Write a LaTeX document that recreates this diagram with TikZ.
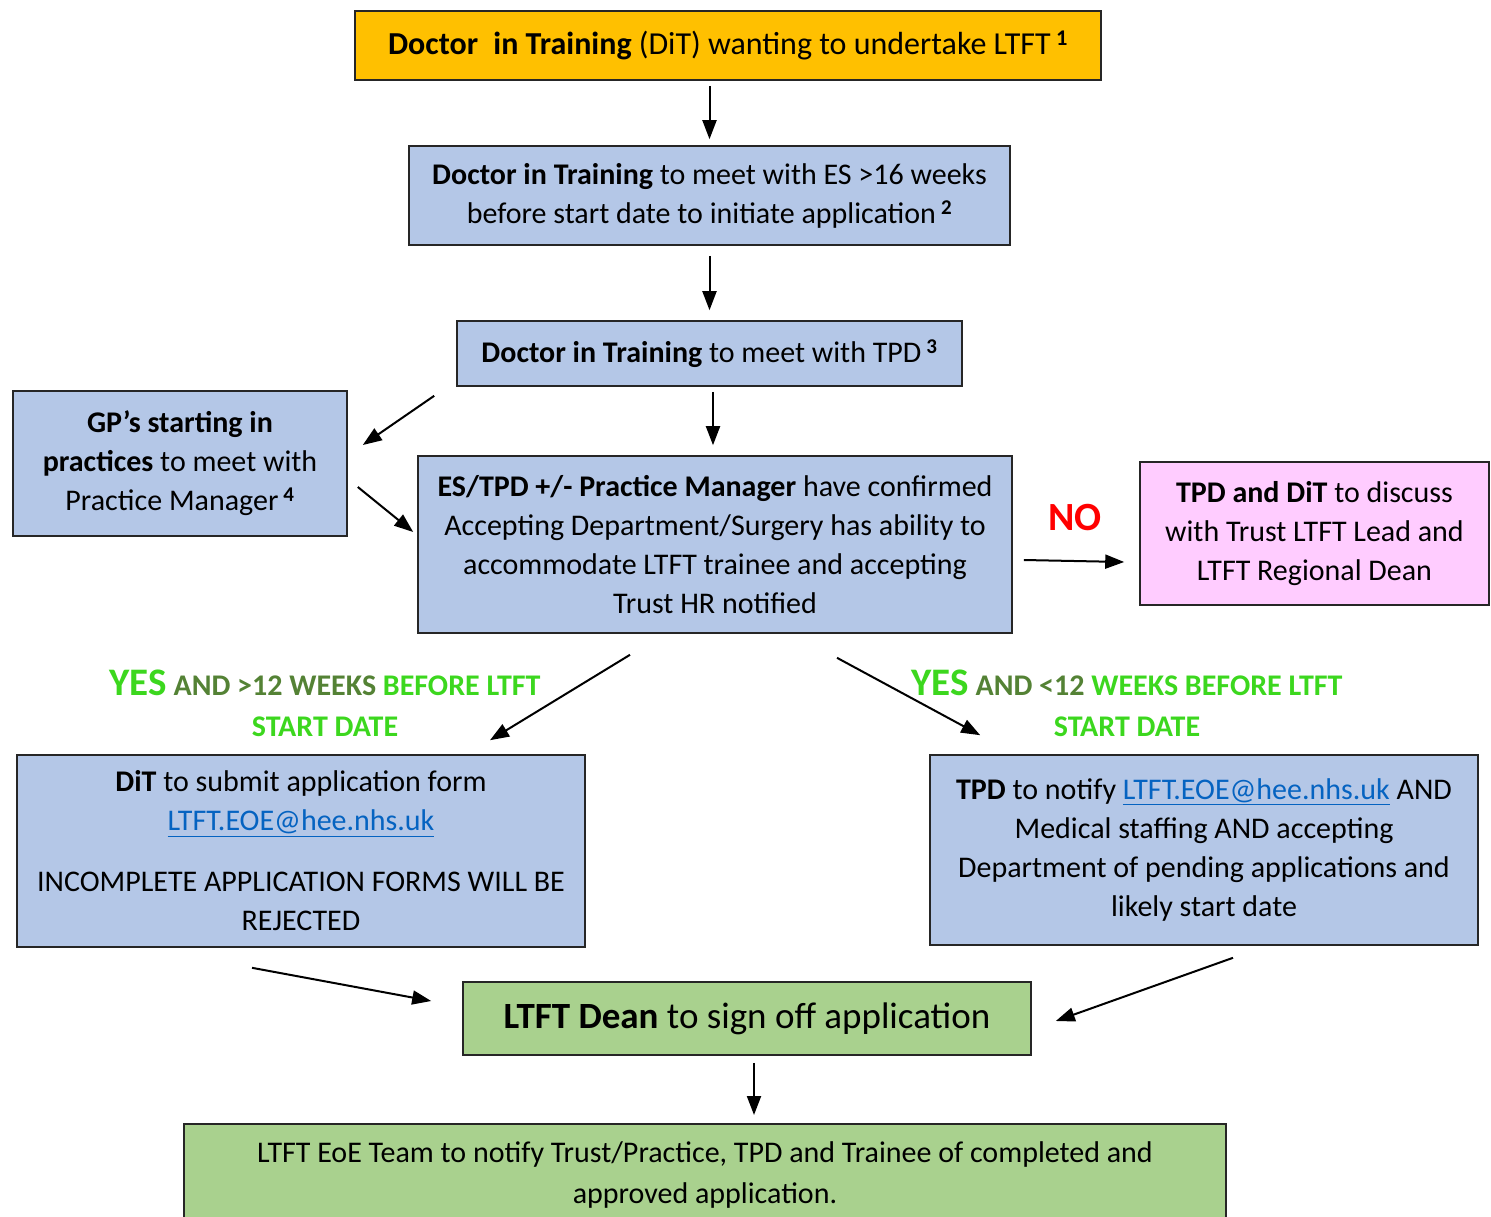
\documentclass[tikz,border=0pt]{standalone}
\usepackage{fontspec}
\setmainfont{Carlito}
\usetikzlibrary{arrows.meta,positioning}
\definecolor{boxorange}{HTML}{FFC000}
\definecolor{boxblue}{HTML}{B4C7E7}
\definecolor{boxpink}{HTML}{FFCCFF}
\definecolor{boxgreen}{HTML}{A9D18E}
\definecolor{linkblue}{HTML}{0563C1}
\definecolor{yesgreen}{RGB}{60,215,30}
\definecolor{andgreen}{HTML}{548235}
\newcommand{\lnk}[1]{\textcolor{linkblue}{\underline{#1}}}
\newcommand{\fnum}[1]{\,\textsuperscript{\textbf{#1}}}

\begin{document}
\begin{tikzpicture}[
      x=1pt, y=-1pt,
      font=\fontsize{30}{39}\selectfont,
      bx/.style={draw=black!85, line width=1.6pt, align=center, inner sep=0pt},
      fl/.style={-{Triangle[length=19pt,width=14pt]}, draw=black, line width=2pt},
      lbl/.style={align=center, font=\fontsize{30}{41}\selectfont\bfseries}
    ]
    \useasboundingbox (0,0) rectangle (1491,1217);
    \node[bx, fill=boxorange, minimum width=746pt, minimum height=69pt, font=\fontsize{32}{39}\selectfont] (want) at (728,45.5)
      {\textbf{Doctor\hspace{8pt} in Training} (DiT) wanting to undertake LTFT\fnum{1}};
    \node[bx, fill=boxblue, minimum width=601pt, minimum height=99pt] (es) at (709.5,195.5)
      {\textbf{Doctor in Training} to meet with ES >16 weeks\\before start date to initiate application\fnum{2}};
    \node[bx, fill=boxblue, minimum width=505pt, minimum height=65pt] (tpd) at (709.5,353.5)
      {\textbf{Doctor in Training} to meet with TPD\fnum{3}};
    \node[bx, fill=boxblue, minimum width=334pt, minimum height=145pt] (gp) at (180,463.5)
      {\textbf{GP’s starting in}\\\textbf{practices} to meet with\\Practice Manager\fnum{4}};
    \node[bx, fill=boxblue, minimum width=594pt, minimum height=177pt] (conf) at (715,544.5)
      {\textbf{ES/TPD +/- Practice Manager} have confirmed\\Accepting Department/Surgery has ability to\\accommodate LTFT trainee and accepting\\Trust HR notified};
    \node[bx, fill=boxpink, minimum width=349pt, minimum height=143pt] (disc) at (1314.5,533.5)
      {\textbf{TPD and DiT} to discuss\\with Trust LTFT Lead and\\LTFT Regional Dean};
    \node[font=\fontsize{40}{41}\selectfont\bfseries, text=red] (no) at (1075,518) {NO};

    % the two yes branches
    \node[lbl] (yesL) at (325,703)
      {{\color{yesgreen}\fontsize{39}{41}\selectfont YES} {\color{andgreen}AND >12 WEEKS} {\color{yesgreen}BEFORE LTFT}\\{\color{yesgreen}START DATE}};
    \node[lbl] (yesR) at (1127,703)
      {{\color{yesgreen}\fontsize{39}{41}\selectfont YES} {\color{andgreen}AND <12} {\color{yesgreen}WEEKS BEFORE LTFT}\\{\color{yesgreen}START DATE}};
    \node[bx, fill=boxblue, minimum width=568pt, minimum height=192pt] (sub) at (301,851)
      {\textbf{DiT} to submit application form\\\lnk{LTFT.EOE@hee.nhs.uk}\\[22pt]INCOMPLETE APPLICATION FORMS WILL BE\\REJECTED};
    \node[bx, fill=boxblue, minimum width=548pt, minimum height=190pt] (ntf) at (1204,850)
      {\textbf{TPD} to notify \lnk{LTFT.EOE@hee.nhs.uk} AND\\Medical staffing AND accepting\\Department of pending applications and\\likely start date};
    \node[bx, fill=boxgreen, minimum width=568pt, minimum height=73pt, font=\fontsize{37}{39}\selectfont] (dean) at (747,1018.5)
      {\textbf{LTFT Dean} to sign off application};
    \node[bx, fill=boxgreen, minimum width=1042pt, anchor=north, inner ysep=18pt, font=\fontsize{30}{41}\selectfont] (team) at (705,1123)
      {LTFT EoE Team to notify Trust/Practice, TPD and Trainee of completed and\\approved application.\rule[-40pt]{0pt}{0pt}};

    \draw[fl, shorten <=5pt, shorten >=6pt] (es.north |- want.south) -- (es.north);
    \draw[fl, shorten <=10pt, shorten >=10pt] (es.south) -- (tpd.north);
    \draw[fl, shorten <=5pt, shorten >=10pt] ([xshift=3.5pt]tpd.south) -- ([xshift=3.5pt]tpd.south |- conf.north);
    \draw[fl] ([shift={(-22,9)}]tpd.south west) -- ([shift={(15,-18.5)}]gp.east);
    \draw[fl] ([shift={(10,23.5)}]gp.east) -- ([shift={(-4,-12.5)}]conf.west);
    \draw[fl] ([shift={(11,15.5)}]conf.east) -- ([shift={(-15,28.5)}]disc.west);
    \draw[fl] ([shift={(-85,21)}]conf.south) -- ([shift={(189,-14)}]sub.north);
    \draw[fl] ([shift={(122,24)}]conf.south) -- ([shift={(51,-19)}]ntf.north west);
    \draw[fl] ([shift={(-49,20)}]sub.south) -- ([shift={(-31,-17.5)}]dean.west);
    \draw[fl] ([shift={(29,12)}]ntf.south) -- ([shift={(24,2.5)}]dean.east);
    \draw[fl] ([shift={(7,7)}]dean.south) -- ([shift={(49,-8)}]team.north);
  \end{tikzpicture}
\end{document}
